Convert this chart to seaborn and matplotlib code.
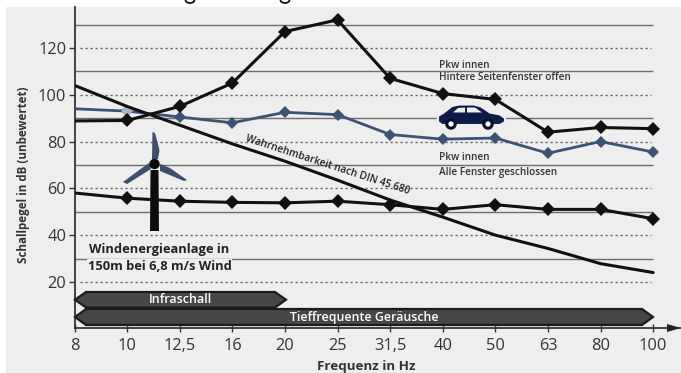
import matplotlib
matplotlib.use("Agg")
import matplotlib.pyplot as plt
import numpy as np
import pandas as pd
import seaborn as sns
from matplotlib.patches import Polygon, Circle, Rectangle, Arc

freq_labels = ["8", "10", "12,5", "16", "20", "25", "31,5", "40", "50", "63", "80", "100"]
pkw_offen = [88.8, 89, 95, 105, 127, 132, 107, 100.5, 98, 84, 86, 85.5]
pkw_geschlossen = [94, 93, 90.5, 88, 92.5, 91.5, 83, 81, 81.5, 75, 80, 75.5]
windanlage = [58, 55.8, 54.5, 54, 53.8, 54.5, 53, 51, 53, 51, 51, 47]
wahrnehmbarkeit = [104, 95, 87, 79, 71.6, 63.5, 55, 47.7, 40, 34.3, 27.8, 24]
y_ticks = [20, 40, 60, 80, 100, 120]
solid_grid = [30, 50, 70, 90, 110, 130]

sns.set_theme(style="white")
plt.rcParams["font.family"] = ["Open Sans", "DejaVu Sans"]

BG = "#EEEEEE"
INK = "#333333"
W, H = 681, 373
fig = plt.figure(figsize=(W / 100, H / 100), dpi=100, facecolor="white")

fig.patches.append(Rectangle((6 / W, 0), 1 - 6 / W, 1 - 7 / H, transform=fig.transFigure,
                             facecolor=BG, edgecolor="none", zorder=-5))

ax = fig.add_axes([74.5 / W, 1 - 328 / H, (680 - 74.5) / W, (328 - 7) / H])
ax.patch.set_alpha(0)
ax.set_xlim(0, 11.51)
ax.set_ylim(0.3, 137.5)

pos = np.arange(len(freq_labels))
df = pd.DataFrame({"pos": pos, "offen": pkw_offen, "geschlossen": pkw_geschlossen,
                   "wind": windanlage, "din": wahrnehmbarkeit})

ax.hlines(solid_grid, 0, 11, color="#6e6e6e", lw=1.0, zorder=1)
ax.hlines(y_ticks, 0.1, 10.95, color="#666666", lw=1.0, linestyles=(0, (1.6, 2.0)), zorder=1)

mk = list(range(1, 12))
sns.lineplot(data=df, x="pos", y="geschlossen", ax=ax, color="#3E5272", lw=2, marker="D",
             markersize=6.5, markeredgewidth=0, markevery=mk, zorder=3)
sns.lineplot(data=df, x="pos", y="offen", ax=ax, color="#111111", lw=2.2, marker="D",
             markersize=7, markeredgewidth=0, markevery=mk, zorder=4)
sns.lineplot(data=df, x="pos", y="wind", ax=ax, color="#111111", lw=2.2, marker="D",
             markersize=7, markeredgewidth=0, markevery=mk, zorder=4)
ax.plot(pos[1], pkw_geschlossen[1], "D", ms=6.5, mew=0, color="#A9B5C8", zorder=3.5)
sns.lineplot(data=df, x="pos", y="din", ax=ax, color="#111111", lw=2.2, zorder=5)

ax.set_xticks(pos, freq_labels)
ax.set_yticks(y_ticks)
ax.tick_params(axis="x", direction="inout", length=6, width=1, color=INK, pad=4,
               labelsize=11.8, labelcolor=INK, bottom=True)
ax.tick_params(axis="y", direction="out", length=4, width=1, color=INK, pad=2,
               labelsize=11.8, labelcolor=INK, left=True)
for s in ["top", "right"]:
    ax.spines[s].set_visible(False)
for s in ["left", "bottom"]:
    ax.spines[s].set_color(INK)
    ax.spines[s].set_linewidth(1.3)
ax.set_xlabel("")
ax.set_ylabel("")

ov = fig.add_axes([0, 0, 1, 1], zorder=10)
ov.set_xlim(0, W)
ov.set_ylim(H, 0)
ov.axis("off")

ov.add_patch(Polygon([(667, 324), (681, 328), (667, 332)], color="#222222", lw=0))

for cx in (190, 285):
    ov.add_patch(Arc((cx, 0), 9, 6, theta1=0, theta2=180, color="#111111", lw=1.3))

for x0, x1, y0, y1 in [(75, 286, 292, 307.5), (75, 653, 309, 325)]:
    ym = (y0 + y1) / 2
    ov.add_patch(Polygon([(x0, ym), (x0 + 11, y0), (x1 - 11, y0), (x1, ym), (x1 - 11, y1), (x0 + 11, y1)],
                         facecolor="#474747", edgecolor="#1c1c1c", lw=1.6))
ov.text(180, 299.5, "Infraschall", color="white", ha="center", va="center", fontsize=9, fontweight="semibold")
ov.text(364, 317, "Tieffrequente Geräusche", color="white", ha="center", va="center", fontsize=8.9, fontweight="semibold")

blade = "#3F4E6C"
ov.add_patch(Polygon([(150.5, 170), (158.5, 170), (159, 231), (150, 231)], color="#0c0c0c", lw=0))
ov.add_patch(Polygon([(152.5, 132), (155, 133), (159.5, 150), (158, 159), (152, 159)], color=blade, lw=0))
ov.add_patch(Polygon([(123, 182), (142, 168), (149, 163), (151, 169), (127, 184)], color=blade, lw=0))
ov.add_patch(Polygon([(187, 180), (184, 181), (160, 171), (160, 164), (170, 168)], color=blade, lw=0))
ov.add_patch(Circle((154.5, 164), 5.2, color="#0a0a0a", lw=0))

navy = "#0E1C48"
ov.add_patch(Polygon([(438, 122), (438, 116), (443, 113), (452, 106), (459, 104.5), (474, 104.5), (481, 106.5),
                     (490, 112.5), (500, 114.5), (505, 118), (505, 122), (500, 125), (442, 125)],
                     facecolor=navy, edgecolor=BG, lw=1.5, zorder=2))
ov.add_patch(Polygon([(453, 112.5), (458, 108), (465, 107.5), (465, 112.5)], color=BG, lw=0, zorder=3))
ov.add_patch(Polygon([(467, 107.5), (475, 107.5), (482, 112.5), (467, 112.5)], color=BG, lw=0, zorder=3))
for cx in (451, 488):
    ov.add_patch(Circle((cx, 124), 4.2, facecolor="#F4F4F4", edgecolor="#06102e", lw=2.2, zorder=4))

def label(x, y, s):
    ov.text(x, y, s, fontsize=7.2, fontweight="semibold", color=INK, ha="left", va="center")

halo = dict(facecolor=BG, edgecolor="none", pad=0.6)
label(439, 65, "Pkw innen")
label(439, 78, "Hintere Seitenfenster offen")
label(439, 158, "Pkw innen")
label(439, 172, "Alle Fenster geschlossen")
ov.text(159, 250, "Windenergieanlage in", fontsize=9.3, fontweight="bold", color="#222222",
        ha="center", va="center", bbox=halo)
ov.text(159.5, 266, "150m bei 6,8 m/s Wind", fontsize=9.3, fontweight="bold", color="#222222",
        ha="center", va="center", bbox=halo)
ov.text(328, 165, "Wahrnehmbarkeit nach DIN 45 680", fontsize=7.3, fontweight="semibold", color="#222222",
        ha="center", va="center", rotation=-18, rotation_mode="anchor")
ov.text(24, 175, "Schallpegel in dB (unbewertet)", fontsize=8.4, fontweight="bold", color=INK,
        ha="center", va="center", rotation=90)
ov.text(366, 366.5, "Frequenz in Hz", fontsize=9.6, fontweight="bold", color=INK, ha="center", va="center")

fig.savefig("out.png", dpi=100)
